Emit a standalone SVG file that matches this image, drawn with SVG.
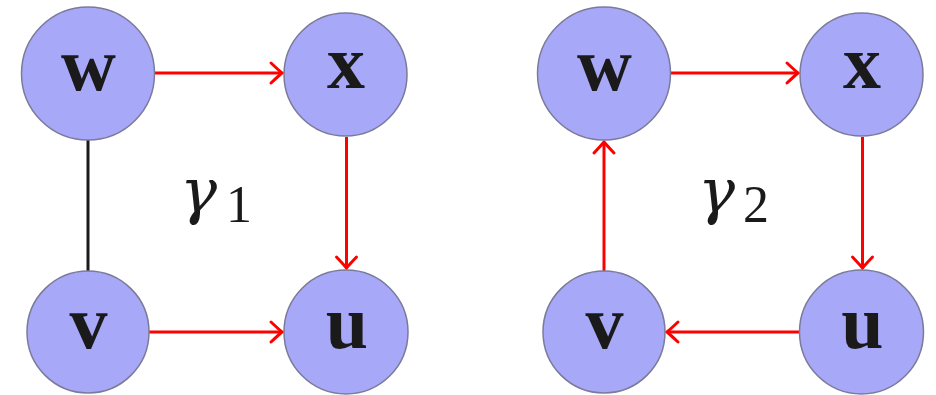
<svg xmlns="http://www.w3.org/2000/svg" width="936" height="395" viewBox="0 0 936 395">
<style>
.node circle{fill:#a8a8f8;stroke:#7a7a9a;stroke-width:1.5}
.node text{font-family:"Liberation Serif",serif;font-weight:bold;font-size:76px;text-anchor:middle;fill:#1a1a1a}
.e{stroke:#ff0000;stroke-width:3;fill:none}
.k{stroke:#1a1a1a;stroke-width:3;fill:none}
.lbl{font-family:"Liberation Serif",serif;font-size:74px;fill:#1a1a1a}
.g{font-family:"DejaVu Serif",serif;font-style:italic;font-size:62px}
</style>
<defs>
<marker id="ah" markerUnits="userSpaceOnUse" viewBox="-14 -12 16 24" markerWidth="16" markerHeight="24" refX="0" refY="0" orient="auto" overflow="visible">
<path d="M-11,-10 Q-3,-2.5 0,0 Q-3,2.5 -11,10" stroke="#ff0000" stroke-width="3" fill="none" stroke-linecap="round"/>
</marker>
</defs>
<g id="connectors">
<line class="e" x1="155" y1="73" x2="282" y2="73" marker-end="url(#ah)"/>
<line class="e" x1="346.5" y1="137" x2="346.5" y2="268" marker-end="url(#ah)"/>
<line class="e" x1="149" y1="332" x2="282" y2="332" marker-end="url(#ah)"/>
<line class="k" x1="88" y1="140" x2="88" y2="271"/>
<line class="e" x1="671" y1="73" x2="798" y2="73" marker-end="url(#ah)"/>
<line class="e" x1="862.5" y1="137" x2="862.5" y2="268" marker-end="url(#ah)"/>
<line class="e" x1="799" y1="332" x2="667" y2="332" marker-end="url(#ah)"/>
<line class="e" x1="604" y1="271" x2="604" y2="142" marker-end="url(#ah)"/>
</g>
<g id="w1" class="node"><circle cx="88" cy="73.5" r="66.5"/><text x="88.5" y="90">w</text></g>
<g id="x1" class="node"><circle cx="345.5" cy="74.5" r="61.5"/><text x="346" y="88">x</text></g>
<g id="v1" class="node"><circle cx="88" cy="332" r="61"/><text x="88.5" y="348">v</text></g>
<g id="u1" class="node"><circle cx="346" cy="332" r="62"/><text x="347" y="348">u</text></g>
<g id="w2" class="node"><circle cx="604" cy="73.5" r="66.5"/><text x="604.5" y="90">w</text></g>
<g id="x2" class="node"><circle cx="861.5" cy="74.5" r="61.5"/><text x="862" y="88">x</text></g>
<g id="v2" class="node"><circle cx="604" cy="332" r="61"/><text x="604.5" y="348">v</text></g>
<g id="u2" class="node"><circle cx="861.5" cy="332" r="62"/><text x="862.5" y="348">u</text></g>
<g id="label1"><text class="lbl" x="180" y="212"><tspan class="g">γ</tspan><tspan x="226" y="222" font-size="52">1</tspan></text></g>
<g id="label2"><text class="lbl" x="698" y="212"><tspan class="g">γ</tspan><tspan x="743" y="222" font-size="52">2</tspan></text></g>
</svg>
